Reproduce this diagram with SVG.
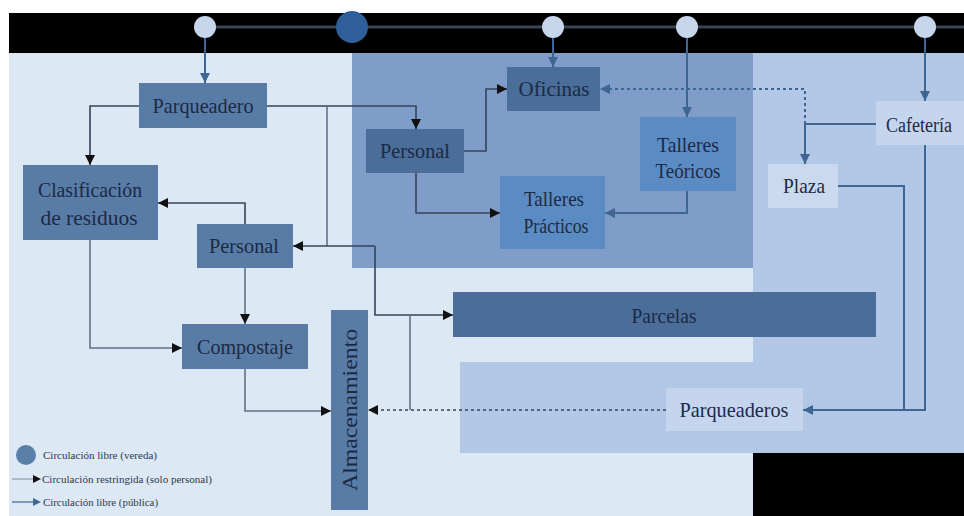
<svg xmlns="http://www.w3.org/2000/svg" width="964" height="516" viewBox="0 0 964 516">
<style>
.t{font-family:'Times New Roman','Liberation Serif',Tinos,'DejaVu Serif',serif;font-size:22px;fill:#1b2a45;text-anchor:middle}
.lg{font-family:'Times New Roman','Liberation Serif',Tinos,'DejaVu Serif',serif;font-size:10px;fill:#2a3a52}
.n{fill:#587ca6}
.nd{fill:#4a6e99}
.nl{fill:#5b8bc3}
.np{fill:#c5d5ed}
.k{fill:none;stroke:#34445a;stroke-width:1.6}
.g{fill:none;stroke:#5f7286;stroke-width:1.6}
.b{fill:none;stroke:#3f6592;stroke-width:2}
.d{stroke-dasharray:3,3}
.cl{fill:#c8d6ec}
</style>
<defs>
<marker id="ak" viewBox="0 0 10 10" refX="10" refY="5" markerWidth="10" markerHeight="10" markerUnits="userSpaceOnUse" orient="auto"><path d="M0,0 L10,5 L0,10z" fill="#111"/></marker>
<marker id="ab" viewBox="0 0 10 10" refX="10" refY="5" markerWidth="10" markerHeight="10" markerUnits="userSpaceOnUse" orient="auto"><path d="M0,0 L10,5 L0,10z" fill="#3f6592"/></marker>
</defs>
<g id="background">
<rect x="0" y="0" width="964" height="516" fill="#ffffff"/>
<rect x="9" y="53" width="955" height="463" fill="#dde8f5"/>
<rect x="753" y="53" width="211" height="400" fill="#b3c7e6"/>
<rect x="460" y="362" width="504" height="91" fill="#b3c7e6"/>
<rect x="352" y="53" width="401" height="215" fill="#7f9dc8"/>
<rect x="753" y="453" width="211" height="63" fill="#000"/>
<rect x="9" y="13" width="955" height="40" fill="#000"/>
<line x1="205" y1="27" x2="964" y2="27" stroke="#3a4652" stroke-width="3"/>
</g>
<g id="connectors">
<path class="b" d="M205,38 V83" marker-end="url(#ab)"/>
<path class="b" d="M553,38 V67" marker-end="url(#ab)"/>
<path class="b" d="M687,38 V117" marker-end="url(#ab)"/>
<path class="b" d="M925,38 V101" marker-end="url(#ab)"/>
<path class="b" d="M687,191 V213 H605" marker-end="url(#ab)"/>
<path class="b" d="M876,124 H805 V164" marker-end="url(#ab)"/>
<path class="b d" d="M805,124 V89 H600" marker-end="url(#ab)"/>
<path class="b" d="M925,145 V410 H904"/>
<path class="b" d="M838,186 H904 V410 H803" marker-end="url(#ab)"/>
<path class="k d" d="M666,410 H368" marker-end="url(#ak)"/>
<path class="k" d="M139,106 H90 V165" marker-end="url(#ak)"/>
<path class="k" d="M266,106 H416 V129" marker-end="url(#ak)"/>
<path class="g" d="M327,106 V246"/>
<path class="k" d="M375,246 H293" marker-end="url(#ak)"/>
<path class="k" d="M375,246 V315 H453" marker-end="url(#ak)"/>
<path class="g" d="M410,315 V410"/>
<path class="k" d="M245,224 V203 H158" marker-end="url(#ak)"/>
<path class="g" d="M245,268 V324" marker-end="url(#ak)"/>
<path class="g" d="M90,240 V348 H182" marker-end="url(#ak)"/>
<path class="g" d="M245,369 V411 H331" marker-end="url(#ak)"/>
<path class="k" d="M463,151 H486 V89 H507" marker-end="url(#ak)"/>
<path class="k" d="M416,173 V213 H500" marker-end="url(#ak)"/>
</g>
<g id="hubs">
<circle class="cl" cx="205" cy="27" r="11"/>
<circle cx="352" cy="27" r="16" fill="#2e5f9a"/>
<circle class="cl" cx="553" cy="27" r="11"/>
<circle class="cl" cx="687" cy="27" r="11"/>
<circle class="cl" cx="925" cy="27" r="11"/>
</g>
<g id="parqueadero"><rect class="n" x="139" y="83" width="128" height="45"/><text class="t" x="203" y="113" textLength="101" lengthAdjust="spacingAndGlyphs">Parqueadero</text></g>
<g id="clasificacion"><rect class="n" x="23" y="165" width="135" height="75"/><text class="t" x="90" y="197" textLength="104" lengthAdjust="spacingAndGlyphs">Clasificación</text><text class="t" x="89" y="225" textLength="97" lengthAdjust="spacingAndGlyphs">de residuos</text></g>
<g id="personal-1"><rect class="n" x="197" y="224" width="96" height="44"/><text class="t" x="244" y="253" textLength="70" lengthAdjust="spacingAndGlyphs">Personal</text></g>
<g id="compostaje"><rect class="n" x="182" y="324" width="126" height="45"/><text class="t" x="245" y="354" textLength="96" lengthAdjust="spacingAndGlyphs">Compostaje</text></g>
<g id="almacenamiento"><rect class="n" x="331" y="310" width="37" height="200"/><text class="t" transform="translate(357,410) rotate(-90)" x="0" y="0" textLength="162" lengthAdjust="spacingAndGlyphs">Almacenamiento</text></g>
<g id="personal-2"><rect class="nd" x="366" y="129" width="98" height="44"/><text class="t" x="415" y="158" textLength="70" lengthAdjust="spacingAndGlyphs">Personal</text></g>
<g id="oficinas"><rect class="nd" x="507" y="67" width="93" height="44"/><text class="t" x="554" y="96" textLength="71" lengthAdjust="spacingAndGlyphs">Oficinas</text></g>
<g id="talleres-practicos"><rect class="nl" x="500" y="176" width="105" height="73"/><text class="t" x="554" y="206" textLength="60" lengthAdjust="spacingAndGlyphs">Talleres</text><text class="t" x="556" y="233" textLength="65" lengthAdjust="spacingAndGlyphs">Prácticos</text></g>
<g id="talleres-teoricos"><rect class="nl" x="640" y="117" width="96" height="74"/><text class="t" x="688" y="152" textLength="62" lengthAdjust="spacingAndGlyphs">Talleres</text><text class="t" x="688" y="178" textLength="65" lengthAdjust="spacingAndGlyphs">Teóricos</text></g>
<g id="plaza"><rect fill="#cbd9ef" x="768" y="164" width="70" height="44"/><text class="t" x="804" y="193" textLength="42" lengthAdjust="spacingAndGlyphs">Plaza</text></g>
<g id="cafeteria"><rect class="np" x="876" y="101" width="88" height="44"/><text class="t" x="919" y="132" textLength="66" lengthAdjust="spacingAndGlyphs" style="font-size:20px">Cafetería</text></g>
<g id="parcelas"><rect class="nd" x="453" y="292" width="423" height="45"/><text class="t" x="664" y="323" textLength="65" lengthAdjust="spacingAndGlyphs">Parcelas</text></g>
<g id="parqueaderos"><rect class="np" x="666" y="388" width="137" height="43"/><text class="t" x="734" y="417" textLength="109" lengthAdjust="spacingAndGlyphs">Parqueaderos</text></g>
<g id="legend">
<circle cx="26" cy="455" r="10" fill="#5a7fa8"/>
<text class="lg" x="43" y="459" textLength="114" lengthAdjust="spacingAndGlyphs">Circulación libre (vereda)</text>
<path d="M12,479 H34" stroke="#8a9aac" stroke-width="1.2" fill="none"/>
<path d="M33,475 L41,479 L33,483z" fill="#111"/>
<text class="lg" x="42" y="483" textLength="170" lengthAdjust="spacingAndGlyphs">Circulación restringida (solo personal)</text>
<path d="M12,502 H34" stroke="#3f6592" stroke-width="1.2" fill="none"/>
<path d="M33,498 L41,502 L33,506z" fill="#3f6592"/>
<text class="lg" x="43" y="506" textLength="115" lengthAdjust="spacingAndGlyphs">Circulación libre (pública)</text>
</g>
</svg>
